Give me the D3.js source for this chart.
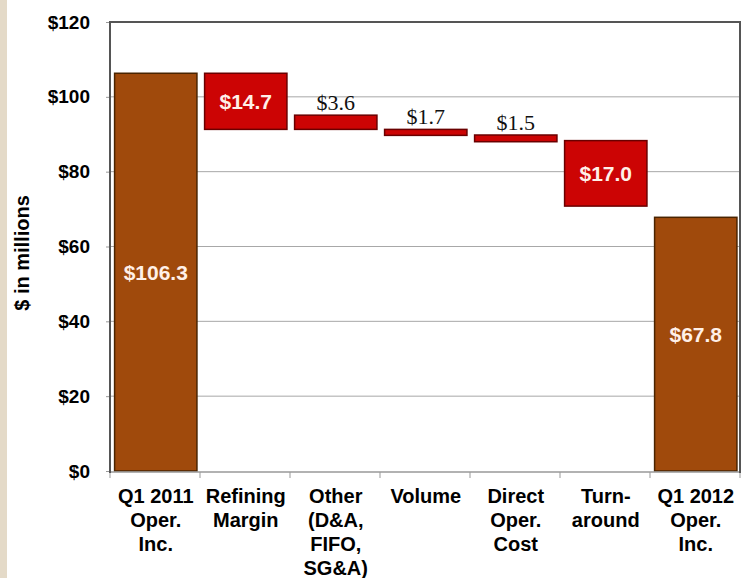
<!DOCTYPE html>
<html>
<head>
<meta charset="utf-8">
<script src="https://cdn.jsdelivr.net/npm/d3@7"></script>
<style>
  html, body { margin: 0; padding: 0; background: #ffffff; }
  svg { display: block; }
</style>
</head>
<body>
<svg id="chart" width="742" height="578"></svg>
<script>
// ---- data ----
const categories = [
  ["Q1 2011", "Oper.", "Inc."],
  ["Refining", "Margin"],
  ["Other", "(D&A,", "FIFO,", "SG&A)"],
  ["Volume"],
  ["Direct", "Oper.", "Cost"],
  ["Turn-", "around"],
  ["Q1 2012", "Oper.", "Inc."]
];
const valueLabels = ["$106.3", "$14.7", "$3.6", "$1.7", "$1.5", "$17.0", "$67.8"];
// bar extents as drawn in the picture ($ millions)
const barHigh = [106.3, 106.3, 95.1, 91.3, 89.8, 88.3, 67.8];
const barLow  = [0,     91.3,  91.3, 89.7, 88.0, 70.8, 0];
const barKind = ["total", "change", "change", "change", "change", "change", "total"];
const yTicks = [0, 20, 40, 60, 80, 100, 120];

// ---- layout ----
const svg = d3.select("#chart");
const pLeft = 110, pRight = 740, pTop = 22, pBottom = 471;

svg.append("rect").attr("x", 0).attr("y", 0).attr("width", 7).attr("height", 578)
  .attr("fill", "#e4dac8");

const x = d3.scaleBand().domain(d3.range(categories.length))
  .range([pLeft, pRight]).paddingInner(0.085).paddingOuter(0.0425).align(0.6);
const y = d3.scaleLinear().domain([0, 120]).range([pBottom, pTop]);

// gridlines
svg.append("g").selectAll("line").data(yTicks.filter(t => t > 0 && t < 120)).join("line")
  .attr("x1", pLeft).attr("x2", pRight)
  .attr("y1", d => y(d)).attr("y2", d => y(d))
  .attr("stroke", "#a8a8a8").attr("stroke-width", 1);

// y axis labels
const yAxis = d3.axisLeft(y).tickValues(yTicks).tickSize(4).tickPadding(16)
  .tickFormat(d => "$" + d);
const gy = svg.append("g").attr("transform", `translate(${pLeft},0)`).call(yAxis);
gy.select(".domain").remove();
gy.selectAll(".tick line").attr("stroke", "#999");
gy.selectAll(".tick text")
  .attr("font-family", "'Liberation Sans', Arial, sans-serif")
  .attr("font-weight", "bold").attr("font-size", 19).attr("fill", "#000");

// y title
svg.append("text")
  .attr("transform", `translate(29,253) rotate(-90)`)
  .attr("text-anchor", "middle")
  .attr("font-family", "'Liberation Sans', Arial, sans-serif")
  .attr("font-weight", "bold").attr("font-size", 20).attr("fill", "#000")
  .text("$ in millions");

// bars
const bars = categories.map((c, i) => ({ i, hi: barHigh[i], lo: barLow[i], kind: barKind[i], label: valueLabels[i] }));
svg.append("g").selectAll("rect").data(bars).join("rect")
  .attr("x", d => x(d.i)).attr("width", x.bandwidth())
  .attr("y", d => y(d.hi)).attr("height", d => y(d.lo) - y(d.hi))
  .attr("fill", d => d.kind === "total" ? "#a04a0c" : "#cc0404")
  .attr("stroke", d => d.kind === "total" ? "#4a2400" : "#6a0000")
  .attr("stroke-width", 1.5);

// value labels
const narrow = "'Liberation Sans Narrow', 'Arial Narrow', 'Liberation Sans', sans-serif";
bars.forEach(d => {
  const h = y(d.lo) - y(d.hi);
  const cx = x(d.i) + x.bandwidth() / 2;
  if (h > 30) {
    const cy = d.kind === "total" && d.i > 0 ? y(d.hi) + h * 0.46 : (y(d.lo) + y(d.hi)) / 2;
    svg.append("text")
      .attr("x", cx).attr("y", cy)
      .attr("dy", "0.36em").attr("text-anchor", "middle")
      .attr("font-family", narrow).attr("font-weight", "bold")
      .attr("font-size", 21).attr("fill", "#fff0e8")
      .text(d.label);
  } else {
    svg.append("text")
      .attr("x", cx).attr("y", y(d.hi) - 5)
      .attr("text-anchor", "middle")
      .attr("font-family", "'Liberation Serif', 'Times New Roman', serif")
      .attr("font-size", 22).attr("fill", "#111")
      .text(d.label);
  }
});

// x axis
const edges = d3.range(categories.length + 1).map(i => pLeft + i * (pRight - pLeft) / categories.length);
svg.append("line").attr("x1", pLeft).attr("x2", pRight).attr("y1", pBottom + 1).attr("y2", pBottom + 1)
  .attr("stroke", "#999").attr("stroke-width", 1.5);
svg.append("g").selectAll("line").data(edges).join("line")
  .attr("x1", d => d).attr("x2", d => d).attr("y1", pBottom + 1).attr("y2", pBottom + 7)
  .attr("stroke", "#999").attr("stroke-width", 1);

// frame (top, left, right)
svg.append("path")
  .attr("d", `M${pLeft},${pBottom + 2}V${pTop}H${pRight}V${pBottom + 2}`)
  .attr("fill", "none").attr("stroke", "#555").attr("stroke-width", 2);

// category labels
const gx = svg.append("g");
categories.forEach((lines, i) => {
  const cx = x(i) + x.bandwidth() / 2;
  const t = gx.append("text")
    .attr("x", cx).attr("y", 503)
    .attr("text-anchor", "middle")
    .attr("font-family", "'Liberation Sans', Arial, sans-serif")
    .attr("font-weight", "bold").attr("font-size", 20).attr("fill", "#000");
  lines.forEach((ln, k) => {
    t.append("tspan").attr("x", cx).attr("dy", k === 0 ? 0 : 24).text(ln);
  });
});
</script>
</body>
</html>
